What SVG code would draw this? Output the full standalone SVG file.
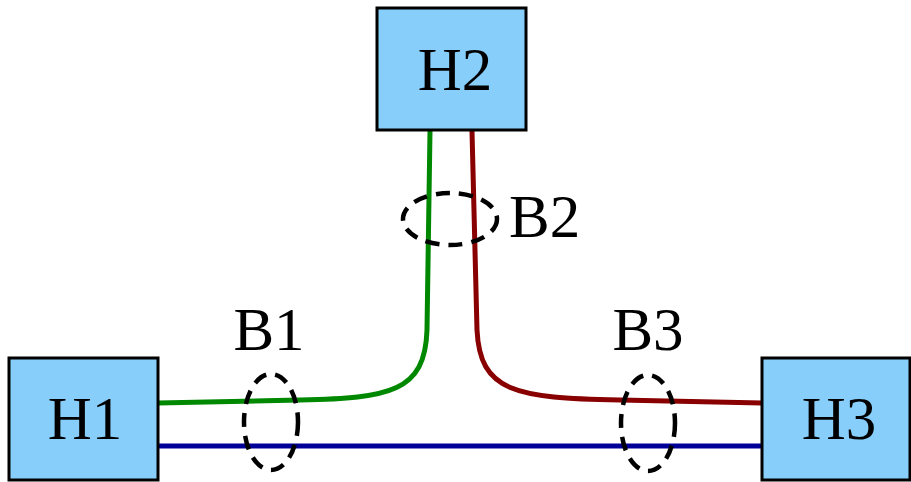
<svg xmlns="http://www.w3.org/2000/svg" width="911" height="482" viewBox="0 0 911 482">
<style>
.box{fill:#87cefa;stroke:#000;stroke-width:3}
.lbl{font-family:"Liberation Serif","Times New Roman",serif;font-size:61px;fill:#000}
.link{fill:none;stroke-width:5}
.bnd{fill:none;stroke:#000;stroke-width:4.5;stroke-dasharray:14 9}
</style>
<rect width="911" height="482" fill="#fff"/>
<g id="connectors">
<path class="link" stroke="#008800" d="M430,131 L427,330 C425,392 390,398 300,400 L158,403"/>
<path class="link" stroke="#880000" d="M472,131 L477,330 C480,392 515,398 620,400 L762,403"/>
<path class="link" stroke="#000099" d="M158,446 L762,446"/>
</g>
<g id="H2"><rect class="box" x="377" y="8" width="149" height="122"/><text class="lbl" x="455" y="90" text-anchor="middle">H2</text></g>
<g id="H1"><rect class="box" x="9" y="358" width="149" height="122"/><text class="lbl" x="85" y="439" text-anchor="middle">H1</text></g>
<g id="H3"><rect class="box" x="762" y="358" width="148" height="122"/><text class="lbl" x="839" y="439" text-anchor="middle">H3</text></g>
<g id="B2"><ellipse class="bnd" cx="450" cy="219" rx="47" ry="26"/><text class="lbl" x="509" y="237">B2</text></g>
<g id="B1"><ellipse class="bnd" cx="271" cy="422" rx="27" ry="48"/><text class="lbl" x="269" y="350" text-anchor="middle">B1</text></g>
<g id="B3"><ellipse class="bnd" cx="648" cy="423" rx="27" ry="48"/><text class="lbl" x="648" y="350" text-anchor="middle">B3</text></g>
</svg>
